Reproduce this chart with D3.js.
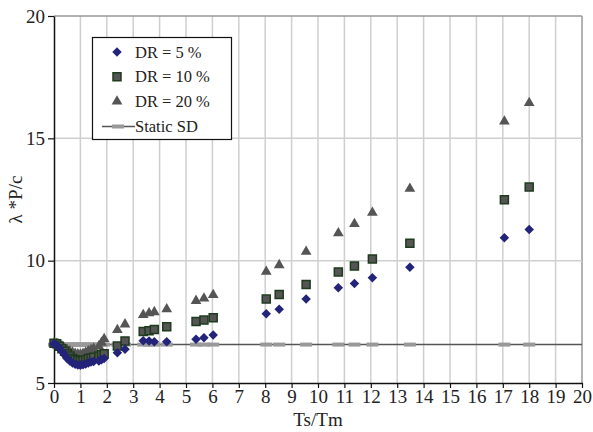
<!DOCTYPE html>
<html>
<head>
<meta charset="utf-8">
<script src="https://cdn.jsdelivr.net/npm/d3@7"></script>
<style>
  body { margin: 0; background: #fff; }
  text { font-family: "Liberation Serif", "Times New Roman", serif; fill: #222; }
</style>
</head>
<body>
<div id="chart"></div>
<script>
// Data (x = Ts/Tm)
const tsTm = [0, 0.1, 0.2, 0.3, 0.4, 0.5, 0.6, 0.7, 0.8, 0.9, 1.0, 1.1, 1.2, 1.3, 1.4, 1.5, 1.7, 1.8, 1.9,
  2.4, 2.69, 3.38, 3.6, 3.8, 4.27, 5.38, 5.68, 6.03, 8.04, 8.53, 9.55, 10.77, 11.38, 12.06, 13.48, 17.06, 18.0];
const dr5 = [6.6, 6.55, 6.45, 6.3, 6.15, 6.0, 5.9, 5.82, 5.77, 5.74, 5.73, 5.75, 5.78, 5.82, 5.86, 5.88, 5.9, 5.95, 6.0,
  6.24, 6.38, 6.73, 6.72, 6.69, 6.69, 6.79, 6.85, 6.96, 7.83, 8.01, 8.43, 8.89, 9.07, 9.3, 9.73, 10.94, 11.27];
const dr10 = [6.62, 6.6, 6.5, 6.4, 6.3, 6.2, 6.1, 6.0, 5.95, 5.92, 5.9, 5.92, 5.95, 6.0, 6.02, 6.05, 6.1, 6.15, 6.2,
  6.51, 6.72, 7.1, 7.14, 7.19, 7.3, 7.51, 7.57, 7.67, 8.43, 8.62, 9.03, 9.54, 9.78, 10.07, 10.71, 12.49, 13.01];
const dr20 = [6.62, 6.6, 6.55, 6.5, 6.4, 6.35, 6.3, 6.25, 6.2, 6.18, 6.17, 6.2, 6.25, 6.3, 6.35, 6.4, 6.5, 6.65, 6.8,
  7.17, 7.4, 7.78, 7.85, 7.9, 8.02, 8.36, 8.46, 8.6, 9.55, 9.82, 10.37, 11.12, 11.5, 11.96, 12.94, 15.69, 16.45];
const staticSD = 6.57;

const xTicks = d3.range(0, 21, 1);
const yTicks = [5, 10, 15, 20];

const width = 593, height = 432;
const margin = { top: 16, right: 11, bottom: 49, left: 54 };
const innerW = width - margin.left - margin.right;
const innerH = height - margin.top - margin.bottom;

const svg = d3.select("#chart").append("svg")
  .attr("width", width).attr("height", height);
const g = svg.append("g").attr("transform", `translate(${margin.left},${margin.top})`);

const x = d3.scaleLinear().domain([0, 20]).range([0, innerW]);
const y = d3.scaleLinear().domain([5, 20]).range([innerH, 0]);

// Grid
g.append("g").selectAll("line").data(xTicks.slice(1)).join("line")
  .attr("x1", d => x(d)).attr("x2", d => x(d)).attr("y1", 0).attr("y2", innerH)
  .attr("stroke", d => d === 20 ? "#999" : "#cfcfcf").attr("stroke-width", 1.5);
g.append("g").selectAll("line").data(yTicks.slice(1)).join("line")
  .attr("x1", 0).attr("x2", innerW).attr("y1", d => y(d)).attr("y2", d => y(d))
  .attr("stroke", d => d === 20 ? "#999" : "#cfcfcf").attr("stroke-width", 1.5);

// Axes
const xAxis = g.append("g").attr("transform", `translate(0,${innerH})`)
  .call(d3.axisBottom(x).tickValues(xTicks).tickSize(5).tickSizeOuter(0).tickFormat(d3.format("d")));
const yAxis = g.append("g")
  .call(d3.axisLeft(y).tickValues(yTicks).tickSize(6).tickSizeOuter(0).tickFormat(d3.format("d")));
[xAxis, yAxis].forEach(a => {
  a.select(".domain").attr("stroke", "#111").attr("stroke-width", 1.5);
  a.selectAll(".tick line").attr("stroke", "#111").attr("stroke-width", 1.2);
  a.selectAll("text").attr("font-family", "Liberation Serif").attr("font-size", 19).attr("fill", "#222");
});
xAxis.selectAll("text").attr("dy", "0.75em").attr("y", 6);
yAxis.selectAll("text").attr("x", -9);

// Static SD line and its dash markers
g.append("line")
  .attr("x1", 0).attr("x2", innerW).attr("y1", y(staticSD)).attr("y2", y(staticSD))
  .attr("stroke", "#555").attr("stroke-width", 1.5);
g.append("g").selectAll("rect").data(tsTm).join("rect")
  .attr("x", d => x(d) - 6).attr("y", y(staticSD) - 2).attr("width", 12).attr("height", 4)
  .attr("fill", "#999");

const diamond = d3.symbol().type(d3.symbolDiamond2).size(58);
const square = d3.symbol().type(d3.symbolSquare).size(64);
const triangle = d3.symbol().type(d3.symbolTriangle).size(50);

function drawSeries(values, sym, fill, stroke) {
  g.append("g").selectAll("path").data(values).join("path")
    .attr("d", sym)
    .attr("transform", (d, i) => `translate(${x(tsTm[i])},${y(d)})`)
    .attr("fill", fill)
    .attr("stroke", stroke)
    .attr("stroke-width", stroke === "none" ? 0 : 1.5);
}
drawSeries(dr20, triangle, "#555555", "none");
drawSeries(dr10, square, "#555555", "#1e3b1e");
drawSeries(dr5, diamond, "#23237a", "none");

// Legend
const leg = svg.append("g");
leg.append("rect").attr("x", 92.5).attr("y", 37.5).attr("width", 139).attr("height", 102)
  .attr("fill", "#fff").attr("stroke", "#111").attr("stroke-width", 1.2);
const items = [
  { label: "DR = 5 %", sym: diamond, fill: "#23237a", stroke: "none" },
  { label: "DR = 10 %", sym: square, fill: "#555555", stroke: "#1e3b1e" },
  { label: "DR = 20 %", sym: triangle, fill: "#555555", stroke: "none" },
];
items.forEach((it, i) => {
  const cy = 52 + i * 24.7;
  leg.append("path").attr("d", it.sym).attr("transform", `translate(117,${cy})`)
    .attr("fill", it.fill).attr("stroke", it.stroke).attr("stroke-width", it.stroke === "none" ? 0 : 1.5);
  leg.append("text").attr("x", 135).attr("y", cy + 5.5).attr("font-size", 16.5).text(it.label);
});
leg.append("line").attr("x1", 102).attr("x2", 135).attr("y1", 126.5).attr("y2", 126.5)
  .attr("stroke", "#555").attr("stroke-width", 1.5);
leg.append("rect").attr("x", 112).attr("y", 124.5).attr("width", 12).attr("height", 4).attr("fill", "#999");
leg.append("text").attr("x", 135).attr("y", 132).attr("font-size", 16.5).text("Static SD");

// Axis titles
svg.append("text").attr("x", margin.left + innerW / 2).attr("y", 426)
  .attr("text-anchor", "middle").attr("font-size", 19).text("Ts/Tm");
svg.append("text").attr("transform", `translate(22,${margin.top + innerH / 2}) rotate(-90)`)
  .attr("text-anchor", "middle").attr("font-size", 19).text("λ *P/c");
</script>
</body>
</html>
